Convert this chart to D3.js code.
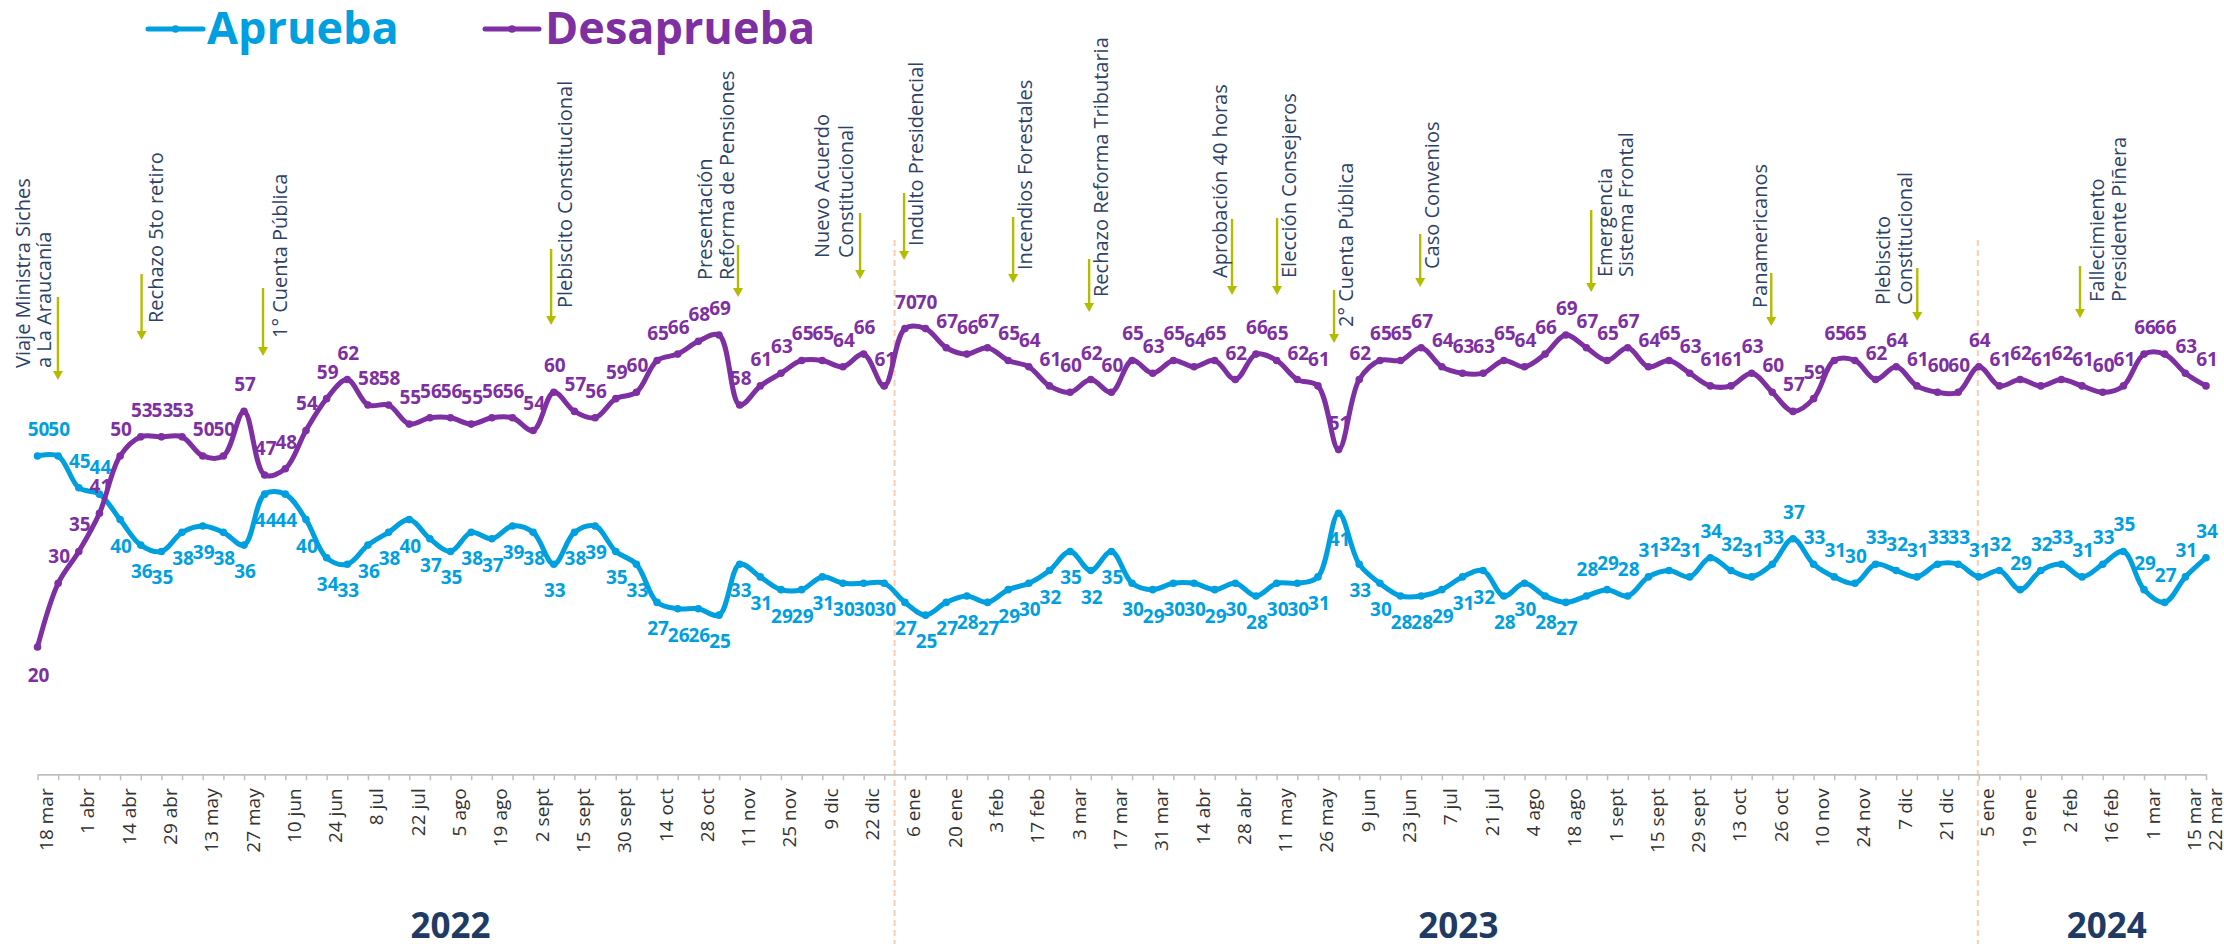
<!DOCTYPE html>
<html><head><meta charset="utf-8">
<script src="https://cdn.jsdelivr.net/npm/d3@7/dist/d3.min.js"></script>
<style>html,body{margin:0;padding:0;background:#fff;} svg{display:block;}</style>
</head><body><svg id="chart" width="2224" height="944"></svg>
<script>
// ---------------- DATA ----------------
const aprueba = [50,50,45,44,40,36,35,38,39,38,36,44,44,40,34,33,36,38,40,37,
  35,38,37,39,38,33,38,39,35,33,27,26,26,25,33,31,29,29,31,30,
  30,30,27,25,27,28,27,29,30,32,35,32,35,30,29,30,30,29,30,28,
  30,30,31,41,33,30,28,28,29,31,32,28,30,28,27,28,29,28,31,32,
  31,34,32,31,33,37,33,31,30,33,32,31,33,33,31,32,29,32,33,31,
  33,35,29,27,31,34];
const desaprueba = [20,30,35,41,50,53,53,53,50,50,57,47,48,54,59,62,58,58,55,56,
  56,55,56,56,54,60,57,56,59,60,65,66,68,69,58,61,63,65,65,64,
  66,61,70,70,67,66,67,65,64,61,60,62,60,65,63,65,64,65,62,66,
  65,62,61,51,62,65,65,67,64,63,63,65,64,66,69,67,65,67,64,65,
  63,61,61,63,60,57,59,65,65,62,64,61,60,60,64,61,62,61,62,61,
  60,61,66,66,63,61];
const seriesNames = ["Aprueba","Desaprueba"];
const tickLabels = ["18 mar","1 abr","14 abr","29 abr","13 may","27 may","10 jun","24 jun","8 jul","22 jul",
  "5 ago","19 ago","2 sept","15 sept","30 sept","14 oct","28 oct","11 nov","25 nov","9 dic",
  "22 dic","6 ene","20 ene","3 feb","17 feb","3 mar","17 mar","31 mar","14 abr","28 abr",
  "11 may","26 may","9 jun","23 jun","7 jul","21 jul","4 ago","18 ago","1 sept","15 sept",
  "29 sept","13 oct","26 oct","10 nov","24 nov","7 dic","21 dic","5 ene","19 ene","2 feb",
  "16 feb","1 mar","15 mar","22 mar"];
const tickIndex = [0,2,4,6,8,10,12,14,16,18,20,22,24,26,28,30,32,34,36,38,
  40,42,44,46,48,50,52,54,56,58,60,62,64,66,68,70,72,74,76,78,
  80,82,84,86,88,90,92,94,96,98,100,102,104,105];
const years = ["2022","2023","2024"];
const yearBreaks = [41.5, 93.95];
const events = [
  {lines:["Viaje Ministra Siches","a La Araucanía"], at:0.99},
  {lines:["Rechazo 5to retiro"], at:5.04},
  {lines:["1° Cuenta Pública"], at:10.92},
  {lines:["Plebiscito Constitucional"], at:24.87},
  {lines:["Presentación","Reforma de Pensiones"], at:33.92},
  {lines:["Nuevo Acuerdo","Constitucional"], at:39.83},
  {lines:["Indulto Presidencial"], at:41.96},
  {lines:["Incendios Forestales"], at:47.24},
  {lines:["Rechazo Reforma Tributaria"], at:50.92},
  {lines:["Aprobación 40 horas"], at:57.84},
  {lines:["Elección Consejeros"], at:60.02},
  {lines:["2° Cuenta Pública"], at:62.78},
  {lines:["Caso Convenios"], at:66.95},
  {lines:["Emergencia","Sistema Frontal"], at:75.23},
  {lines:["Panamericanos"], at:83.95},
  {lines:["Plebiscito","Constitucional"], at:91.02},
  {lines:["Fallecimiento","Presidente Piñera"], at:98.9}
];

// ---------------- LAYOUT ----------------
const yearAt = [20, 68.8, 100.2];
const eventLayout = [
  {top:297, tip:380, bottom:368, dx:[-28,-7]},
  {top:274, tip:340, bottom:323, dx:[21]},
  {top:288, tip:356, bottom:338, dx:[24]},
  {top:249, tip:325, bottom:308, dx:[21]},
  {top:245, tip:297, bottom:280, dx:[-26,-4]},
  {top:213, tip:279, bottom:258, dx:[-31,-7]},
  {top:193, tip:260, bottom:246, dx:[19]},
  {top:217, tip:283, bottom:270, dx:[19]},
  {top:259, tip:312, bottom:297, dx:[19]},
  {top:219, tip:295, bottom:278, dx:[-5]},
  {top:218, tip:295, bottom:278, dx:[19]},
  {top:290, tip:343, bottom:327, dx:[19]},
  {top:234, tip:287, bottom:269, dx:[19]},
  {top:210, tip:292, bottom:277, dx:[21,42]},
  {top:273, tip:326, bottom:308, dx:[-4]},
  {top:268, tip:321, bottom:305, dx:[-27,-5]},
  {top:266, tip:318, bottom:302, dx:[24,46]}
];
const BLUE = "#009fe0", PURPLE = "#7e2fa2", OLIVE = "#b4bc00", NAVY = "#1f3a63";
const FONT = "'Open Sans', 'Noto Sans', sans-serif";

const svg = d3.select("#chart");
svg.append("rect").attr("width",2224).attr("height",944).attr("fill","#fff");

const n = aprueba.length;
const x = d3.scaleLinear().domain([0, n-1]).range([37.5, 2206]);
const y = d3.scaleLinear().domain([0, 100]).range([774.3, 137.6]);

// year break dashed lines
svg.selectAll("line.ybreak").data(yearBreaks).join("line")
  .attr("x1", d=>x(d)).attr("x2", d=>x(d)).attr("y1", 240).attr("y2", 944)
  .attr("stroke", "#f9cdb0").attr("stroke-width", 2).attr("stroke-dasharray", "6,4");

// axis
const labelMap = new Map(tickIndex.map((t,i)=>[t, tickLabels[i]]));
const axis = d3.axisBottom(x).tickValues(d3.range(n)).tickSize(6).tickSizeOuter(0)
  .tickFormat(d => labelMap.get(d) || "");
const gAxis = svg.append("g").attr("transform", `translate(0,${y(0)})`).call(axis);
gAxis.select(".domain").attr("stroke", "#bfbfbf").attr("stroke-width", 1.8);
gAxis.selectAll(".tick line").attr("stroke", "#bfbfbf").attr("stroke-width", 1.5);
gAxis.selectAll(".tick text")
  .attr("transform", "rotate(-90)")
  .attr("x", -14).attr("y", 15).attr("dy", 0)
  .attr("text-anchor", "end")
  .attr("fill", "#333333")
  .style("font-family", FONT).style("font-size", "19px");

// years
svg.selectAll("text.year").data(years).join("text")
  .attr("x", (d,i)=>x(yearAt[i])).attr("y", 938)
  .attr("text-anchor", "middle")
  .attr("fill", NAVY)
  .style("font-family", FONT).style("font-size", "35px").style("font-weight", 700)
  .text(d=>d);

// events
const gEv = svg.append("g");
events.forEach((ev, i) => {
  const L = eventLayout[i];
  const ax = x(ev.at);
  gEv.append("line").attr("x1", ax).attr("x2", ax).attr("y1", L.top).attr("y2", L.tip - 8)
    .attr("stroke", OLIVE).attr("stroke-width", 2.4);
  gEv.append("path")
    .attr("d", `M${ax-5},${L.tip-9} L${ax+5},${L.tip-9} L${ax},${L.tip} Z`)
    .attr("fill", OLIVE);
  ev.lines.forEach((t, j) => {
    gEv.append("text")
      .attr("transform", `translate(${ax + L.dx[j]},${L.bottom}) rotate(-90)`)
      .attr("text-anchor", "start")
      .attr("fill", "#2e4268")
      .style("font-family", FONT).style("font-size", "20px")
      .text(t);
  });
});

// lines
const line = d3.line().x((d,i)=>x(i)).y(d=>y(d)).curve(d3.curveCatmullRom.alpha(0.5));
const series = [
  {name: seriesNames[0], values: aprueba, color: BLUE},
  {name: seriesNames[1], values: desaprueba, color: PURPLE}
];
series.forEach(s => {
  svg.append("path").datum(s.values).attr("d", line)
    .attr("fill", "none").attr("stroke", s.color).attr("stroke-width", 5)
    .attr("stroke-linejoin", "round").attr("stroke-linecap", "round");
  svg.append("g").selectAll("circle").data(s.values).join("circle")
    .attr("cx", (d,i)=>x(i)).attr("cy", d=>y(d)).attr("r", 3.8).attr("fill", s.color);
});

// data labels
function aprOffset(i){ return (i <= 3 || i >= 75) ? -20 : 33; }
function desOffset(i){ return i === 0 ? 35 : -20; }
svg.append("g").selectAll("text").data(aprueba).join("text")
  .attr("x", (d,i)=>x(i)+1).attr("y", (d,i)=>y(d)+aprOffset(i))
  .attr("text-anchor", "middle").attr("fill", BLUE)
  .style("font-family", FONT).style("font-size", "19px").style("font-weight", 700)
  .text(d=>d);
svg.append("g").selectAll("text").data(desaprueba).join("text")
  .attr("x", (d,i)=>x(i)+1).attr("y", (d,i)=>y(d)+desOffset(i))
  .attr("text-anchor", "middle").attr("fill", PURPLE)
  .style("font-family", FONT).style("font-size", "19px").style("font-weight", 700)
  .text(d=>d);

// legend
const legendItems = [
  {name: seriesNames[0], color: BLUE, x0: 148, x1: 203, tx: 207},
  {name: seriesNames[1], color: PURPLE, x0: 485, x1: 539, tx: 545}
];
legendItems.forEach(l => {
  svg.append("line").attr("x1", l.x0).attr("x2", l.x1).attr("y1", 29).attr("y2", 29)
    .attr("stroke", l.color).attr("stroke-width", 5).attr("stroke-linecap", "round");
  svg.append("circle").attr("cx", (l.x0+l.x1)/2).attr("cy", 29).attr("r", 3.8).attr("fill", l.color);
  svg.append("text").attr("x", l.tx).attr("y", 44).attr("fill", l.color)
    .style("font-family", FONT).style("font-size", "45px").style("font-weight", 700)
    .text(l.name);
});
</script>
</body></html>
